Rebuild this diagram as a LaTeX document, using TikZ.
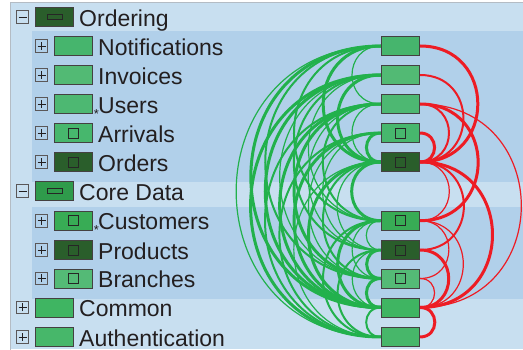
\documentclass[tikz,border=0pt]{standalone}
\usepackage{fontspec}
\setmainfont{Liberation Sans}
\definecolor{PaleClr}{HTML}{C8DFF0}
\definecolor{BandClr}{HTML}{B1D0EA}
\definecolor{FrameClr}{HTML}{B4BCC4}
\definecolor{InkClr}{HTML}{231F20}
\definecolor{LinkGreen}{HTML}{22B14C}
\definecolor{LinkRed}{HTML}{ED1C24}
\definecolor{DarkClr}{HTML}{2A5E2B}
\definecolor{CoreClr}{HTML}{2F9B4B}
\definecolor{NotifClr}{HTML}{46B56D}
\definecolor{InvClr}{HTML}{52BA74}
\definecolor{UserClr}{HTML}{4DB872}
\definecolor{ArrClr}{HTML}{47B76D}
\definecolor{CustClr}{HTML}{38AC55}
\definecolor{BranchClr}{HTML}{54BA76}
\definecolor{CommonClr}{HTML}{3FB562}
\definecolor{AuthClr}{HTML}{47B76A}
\tikzset{
  pkg/.style={draw=InkClr!85,line width=.8pt,minimum width=38.5pt,minimum height=19pt,inner sep=0pt},
  core/.style={path picture={\draw[line width=.9pt,draw=black!85] ([shift={(-7.5pt,-2.5pt)}]path picture bounding box.center) rectangle ++(15pt,5pt);}},
  leaf/.style={path picture={\draw[line width=.9pt,draw=black!85] ([shift={(-5pt,-5pt)}]path picture bounding box.center) rectangle ++(10pt,10pt);}},
  plain/.style={},
  xbox/.style={draw=InkClr!75,line width=.6pt,minimum size=12.5pt,inner sep=0pt},
  xplus/.style={xbox,path picture={\draw[line width=.6pt,draw=InkClr] ([xshift=-4pt]path picture bounding box.center) -- ++(8pt,0) ([yshift=-4pt]path picture bounding box.center) -- ++(0,8pt);}},
  xminus/.style={xbox,path picture={\draw[line width=.6pt,draw=InkClr] ([xshift=-4pt]path picture bounding box.center) -- ++(8pt,0);}},
  lbl/.style={anchor=base west,inner sep=0pt,text=InkClr,font=\fontsize{23}{25}\selectfont},
  star/.style={inner sep=0pt,font=\fontsize{13}{13}\selectfont,text=InkClr},
  gl/.style={draw=LinkGreen,out=180,in=180,looseness=1.7},
  rl/.style={draw=LinkRed,out=0,in=0,looseness=1.7},
  thin1/.style={line width=1.2pt},
  mid1/.style={line width=2pt},
  thick1/.style={line width=3pt}
}
\begin{document}
\begin{tikzpicture}[x=1pt,y=-1pt]
\useasboundingbox (0,0) rectangle (523,350);
\fill[PaleClr] (10,3) rectangle (523,349);
\fill[BandClr] (32,31) rectangle (523,182);
\fill[BandClr] (32,207) rectangle (523,299);
\draw[FrameClr,line width=1pt] (523,3) -- (10,3) -- (10,350);

% tree rows
\foreach \id/\txt/\ypos/\clr/\kind/\xpos/\sign in {
  ordering/Ordering/17/DarkClr/core/0/xminus,
  notif/Notifications/46/NotifClr/plain/19/xplus,
  invoices/Invoices/75/InvClr/plain/19/xplus,
  users/Users/104/UserClr/plain/19/xplus,
  arrivals/Arrivals/133/ArrClr/leaf/19/xplus,
  orders/Orders/162/DarkClr/leaf/19/xplus,
  coredata/Core Data/191/CoreClr/core/0/xminus,
  customers/Customers/220.7/CustClr/leaf/19/xplus,
  products/Products/250/DarkClr/leaf/19/xplus,
  branches/Branches/278.5/BranchClr/leaf/19/xplus,
  common/Common/307.5/CommonClr/plain/0/xplus,
  auth/Authentication/337/AuthClr/plain/0/xplus}{
  \node[\sign] (x\id) at (22.5+\xpos,\ypos) {};
  \node[pkg,fill=\clr,\kind] (t\id) at (54.5+\xpos,\ypos) {};
  \node[lbl] (l\id) at (79+\xpos,\ypos+9.2) {\txt};
}
\node[star] (susers) at (96.5,114) {*};
\node[star] (scustomers) at (96.5,230) {*};

% matrix column
\foreach \id/\ypos/\clr/\kind in {
  notif/46/NotifClr/plain,invoices/75/InvClr/plain,users/104/UserClr/plain,
  arrivals/133/ArrClr/leaf,orders/162/DarkClr/leaf,customers/220.7/CustClr/leaf,
  products/250/DarkClr/leaf,branches/278.5/BranchClr/leaf,common/307.5/CommonClr/plain,auth/337/AuthClr/plain}{
  \node[pkg,fill=\clr,\kind] (\id) at (400.5,\ypos) {};
}

% green links
\foreach \a/\b in {notif/auth,users/orders,notif/users,invoices/branches,arrivals/products,orders/products,customers/products,customers/branches,products/common,orders/auth,arrivals/branches,invoices/customers,users/products}
  \draw[gl,thin1] (\a.west) to (\b.west);
\foreach \a/\b in {notif/branches,users/auth,arrivals/auth,notif/customers,invoices/products,users/customers,orders/branches,common/auth,customers/auth,products/auth}
  \draw[gl,mid1] (\a.west) to (\b.west);
\foreach \a/\b in {notif/common,invoices/common,invoices/auth,users/branches,users/common,arrivals/common,orders/common,notif/orders,invoices/orders,arrivals/orders,orders/customers,customers/common,branches/common,products/branches}
  \draw[gl,thick1] (\a.west) to (\b.west);

% red links
\foreach \a/\b in {users/common,orders/customers,customers/branches,customers/common,branches/common}
  \draw[rl,thin1] (\a.east) to (\b.east);
\foreach \a/\b in {invoices/orders,users/orders,orders/products}
  \draw[rl,mid1] (\a.east) to (\b.east);
\foreach \a/\b in {notif/orders,arrivals/orders,users/customers,orders/common,products/common,common/auth}
  \draw[rl,thick1] (\a.east) to (\b.east);
\end{tikzpicture}
\end{document}
